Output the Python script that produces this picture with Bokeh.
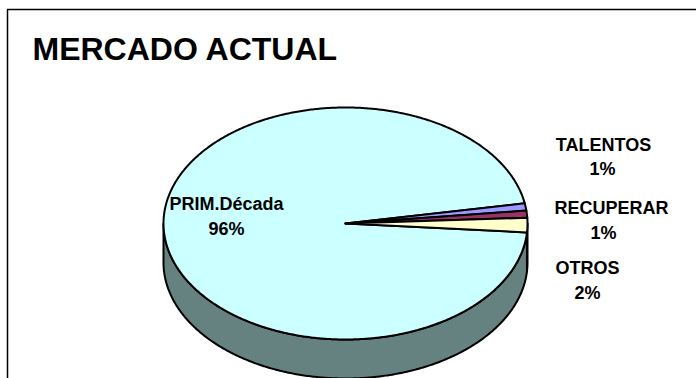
import numpy as np
from bokeh.plotting import figure
from bokeh.models import Range1d, Label
from bokeh.core.properties import value
from bokeh.embed import file_html
from bokeh.resources import INLINE

# --- data -------------------------------------------------------------
title_text = "MERCADO ACTUAL"
categories = ["PRIM.Década", "TALENTOS", "RECUPERAR", "OTROS"]
shares = [96, 1, 1, 2]

# --- styling / layout -------------------------------------------------
top_colors = ["#CCFFFF", "#9999FF", "#993366", "#FFFFCC"]
side_colors = ["#668280", "#4D4D80", "#4D1A33", "#808066"]
name_xy = [(226, 203), (603, 144), (611, 207), (587, 267)]
pct_xy = [(226, 228), (602, 168), (603, 232), (587, 292)]

W, H = 696, 378
CX, CY = 345, 223          # pie centre
RX, RY = 182, 116          # ellipse radii of the tilted top face
DEPTH = 39                 # thickness of the pie
START = -4.4               # angle (deg, counter-clockwise from east) of first slice
FONT = "Liberation Sans"

p = figure(width=W, height=H, output_backend="svg", toolbar_location=None,
           x_range=Range1d(0, W), y_range=Range1d(H, 0),
           x_axis_location=None, y_axis_location=None,
           min_border=0, outline_line_color=None,
           background_fill_color="white", border_fill_color="white")
p.grid.visible = False


def arc(t0, t1, dy=0.0, step=0.5):
    n = max(2, int(abs(t1 - t0) / step) + 2)
    t = np.radians(np.linspace(t0, t1, n))
    return CX + RX * np.cos(t), CY - RY * np.sin(t) + dy


total = float(sum(shares))
spans = []
a = START
for s in shares:
    b = a - 360.0 * s / total      # slices run clockwise
    spans.append((a, b))
    a = b

# side walls: only the front half (180..360 deg) is visible
side_xs, side_ys, side_fill = [], [], []
for (a0, a1), col in zip(spans, side_colors):
    lo, hi = min(a0, a1), max(a0, a1)
    for k in range(-2, 2):
        f0, f1 = 180 + 360 * k, 360 + 360 * k
        l, h = max(lo, f0), min(hi, f1)
        if h - l > 1e-6:
            tx, ty = arc(l, h)
            bx, by = arc(h, l, DEPTH)
            side_xs.append(np.concatenate([tx, bx]))
            side_ys.append(np.concatenate([ty, by]))
            side_fill.append(col)

p.patches(side_xs, side_ys, fill_color=side_fill, line_color="black",
          line_width=2, line_join="round")

# top faces
top_xs, top_ys = [], []
for a0, a1 in spans:
    ax, ay = arc(a0, a1)
    top_xs.append(np.concatenate([[CX], ax]))
    top_ys.append(np.concatenate([[CY], ay]))

p.patches(top_xs, top_ys, fill_color=top_colors, line_color="black",
          line_width=2, line_join="round")

# chart-area border (top and left edges)
p.line(x=[7, 7, W], y=[H, 9, 9], line_color="black", line_width=1.5)

# title
p.add_layout(Label(x=32, y=48, text=title_text, text_font=FONT,
                   text_font_size="32px", text_font_style="bold",
                   text_color="black", text_baseline="alphabetic"))

# data labels
pct_text = [f"{round(100 * s / total)}%" for s in shares]
p.text(x=[xy[0] for xy in name_xy], y=[xy[1] for xy in name_xy], text=categories,
       text_font=value(FONT), text_font_size="18px", text_font_style="bold",
       text_align="center", text_baseline="alphabetic", text_color="black")
p.text(x=[xy[0] for xy in pct_xy], y=[xy[1] for xy in pct_xy], text=pct_text,
       text_font=value(FONT), text_font_size="18px", text_font_style="bold",
       text_align="center", text_baseline="alphabetic", text_color="black")

open("out.html", "w").write(file_html(p, INLINE))
